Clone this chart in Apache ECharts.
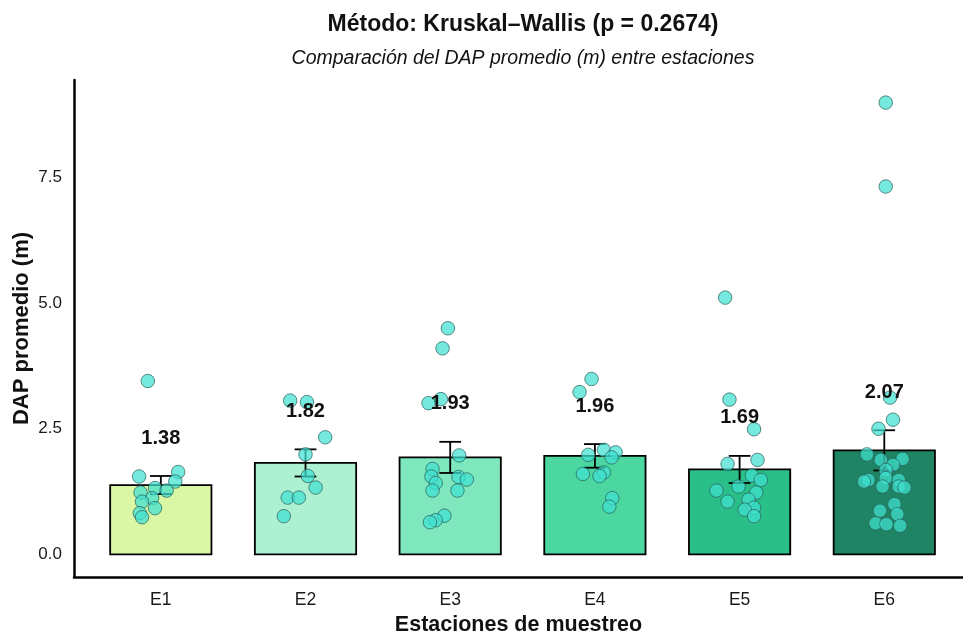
<!DOCTYPE html>
<html>
<head>
<meta charset="utf-8">
<script src="https://cdn.jsdelivr.net/npm/echarts@6/dist/echarts.min.js"></script>
<style>
  html, body { margin: 0; padding: 0; background: #ffffff; }
  #chart { width: 963px; height: 637px; }
</style>
</head>
<body>
<div id="chart"></div>
<script>
// ---- Data ----
const categories = ['E1', 'E2', 'E3', 'E4', 'E5', 'E6'];
const means = [1.38, 1.82, 1.93, 1.96, 1.69, 2.07];
const stdErrors = [0.18, 0.27, 0.31, 0.235, 0.27, 0.40];
const barColors = ['#DAF7A6', '#AEF0D2', '#7FE7BE', '#4CD6A0', '#2ABF89', '#1F8463'];
const yTicks = [0, 2.5, 5, 7.5];

// individual observations (value) and their horizontal jitter (category units)
const e1Vals = [3.45, 1.55, 1.64, 1.45, 1.32, 1.27, 1.23, 1.12, 1.05, 0.92, 0.82, 0.74];
const e1Jit  = [-0.09, -0.15, 0.12, 0.10, -0.04, 0.04, -0.14, -0.06, -0.13, -0.04, -0.145, -0.13];
const e2Vals = [3.06, 3.03, 2.33, 1.99, 1.56, 1.33, 1.13, 1.13, 0.76];
const e2Jit  = [-0.106, 0.01, 0.136, 0.0, 0.016, 0.07, -0.123, -0.046, -0.15];
const e3Vals = [4.50, 4.10, 3.01, 3.09, 1.97, 1.70, 1.55, 1.54, 1.49, 1.42, 1.27, 1.27, 0.77, 0.68, 0.64];
const e3Jit  = [-0.016, -0.053, -0.15, -0.064, 0.062, -0.122, -0.13, 0.057, 0.115, -0.10, -0.122, 0.05, -0.04, -0.10, -0.14];
const e4Vals = [3.49, 3.23, 2.08, 2.03, 1.98, 1.93, 1.60, 1.63, 1.56, 1.12, 0.95];
const e4Jit  = [-0.023, -0.106, 0.062, 0.143, -0.046, 0.115, -0.083, 0.062, 0.032, 0.12, 0.10];
const e5Vals = [5.11, 3.08, 2.49, 1.88, 1.80, 1.57, 1.48, 1.35, 1.27, 1.23, 1.09, 1.05, 0.93, 0.89, 0.76];
const e5Jit  = [-0.10, -0.07, 0.10, 0.124, -0.083, 0.085, 0.147, -0.007, -0.16, 0.115, 0.062, -0.083, 0.10, 0.035, 0.10];
const e6Vals = [8.99, 7.32, 3.12, 2.68, 2.50, 1.99, 1.88, 1.90, 1.78, 1.68, 1.52, 1.48, 1.45, 1.48, 1.35, 1.35, 1.33, 1.00, 0.87, 0.80, 0.62, 0.60, 0.57];
const e6Jit  = [0.01, 0.01, 0.04, 0.06, -0.04, -0.12, -0.024, 0.126, 0.06, 0.01, 0.01, -0.11, -0.14, 0.10, -0.012, 0.10, 0.14, 0.07, -0.03, 0.09, -0.06, 0.015, 0.11];

const allVals = [e1Vals, e2Vals, e3Vals, e4Vals, e5Vals, e6Vals];
const allJit = [e1Jit, e2Jit, e3Jit, e4Jit, e5Jit, e6Jit];

// ---- Build series data ----
const barData = means.map((m, i) => [i + 1, m, i]);
const errData = means.map((m, i) => [i + 1, m - stdErrors[i], m + stdErrors[i], m]);
const pointData = [];
allVals.forEach((vals, i) => {
  vals.forEach((v, k) => pointData.push([i + 1 + allJit[i][k], v]));
});

const FONT = '"Liberation Sans", Arial, sans-serif';
const BAR_HALF = 0.35;
const CAP_HALF = 0.075;

const chart = echarts.init(document.getElementById('chart'), null, { renderer: 'canvas' });

const option = {
  backgroundColor: '#ffffff',
  animation: false,
  title: [
    {
      text: 'Método: Kruskal–Wallis (p = 0.2674)',
      left: 523, top: 13, textAlign: 'center', padding: 0,
      textStyle: { fontFamily: FONT, fontSize: 23, fontWeight: 'bold', color: '#111111' }
    },
    {
      text: 'Comparación del DAP promedio (m) entre estaciones',
      left: 523, top: 49, textAlign: 'center', padding: 0,
      textStyle: { fontFamily: FONT, fontSize: 19.5, fontStyle: 'italic', fontWeight: 'normal', color: '#111111' }
    }
  ],
  grid: { left: 74, top: 80, width: 889, height: 497, containLabel: false, outerBoundsMode: 'none' },
  xAxis: {
    type: 'value',
    min: 0.4, max: 6.544,
    name: 'Estaciones de muestreo',
    nameLocation: 'middle',
    nameGap: 37,
    nameMoveOverlap: false,
    nameTextStyle: { fontFamily: FONT, fontSize: 21.5, fontWeight: 'bold', color: '#111111' },
    axisLine: { show: true, onZero: false, lineStyle: { color: '#000000', width: 2.5 } },
    axisTick: { show: false },
    splitLine: { show: false },
    axisLabel: {
      customValues: [1, 2, 3, 4, 5, 6],
      formatter: (v) => categories[Math.round(v) - 1] || '',
      fontFamily: FONT, fontSize: 17.5, color: '#1a1a1a', margin: 14
    }
  },
  yAxis: {
    type: 'value',
    min: -0.45, max: 9.44,
    name: 'DAP promedio (m)',
    nameLocation: 'middle',
    nameGap: 41,
    nameMoveOverlap: false,
    nameTextStyle: { fontFamily: FONT, fontSize: 22, fontWeight: 'bold', color: '#111111' },
    axisLine: { show: true, onZero: false, lineStyle: { color: '#000000', width: 2.5 } },
    axisTick: { show: false },
    splitLine: { show: false },
    axisLabel: {
      customValues: yTicks,
      formatter: (v) => v.toFixed(1),
      fontFamily: FONT, fontSize: 17, color: '#1a1a1a', margin: 12
    }
  },
  series: [
    {
      type: 'custom',
      name: 'bars',
      z: 1,
      data: barData,
      encode: { x: 0, y: 1 },
      renderItem: function (params, api) {
        const x = api.value(0), y = api.value(1), idx = api.value(2);
        const p1 = api.coord([x - BAR_HALF, y]);
        const p2 = api.coord([x + BAR_HALF, 0]);
        return {
          type: 'rect',
          shape: { x: p1[0], y: p1[1], width: p2[0] - p1[0], height: p2[1] - p1[1] },
          style: { fill: barColors[idx], stroke: '#000000', lineWidth: 1.8 }
        };
      }
    },
    {
      type: 'custom',
      name: 'errors',
      z: 2,
      data: errData,
      encode: { x: 0, y: [1, 2] },
      renderItem: function (params, api) {
        const x = api.value(0), lo = api.value(1), hi = api.value(2);
        const top = api.coord([x, hi]);
        const bot = api.coord([x, lo]);
        const cl = api.coord([x - CAP_HALF, hi]);
        const cr = api.coord([x + CAP_HALF, hi]);
        const bl = api.coord([x - CAP_HALF, lo]);
        const br = api.coord([x + CAP_HALF, lo]);
        const st = { stroke: '#000000', lineWidth: 1.8 };
        return {
          type: 'group',
          children: [
            { type: 'line', shape: { x1: top[0], y1: top[1], x2: bot[0], y2: bot[1] }, style: st },
            { type: 'line', shape: { x1: cl[0], y1: cl[1], x2: cr[0], y2: cr[1] }, style: st },
            { type: 'line', shape: { x1: bl[0], y1: bl[1], x2: br[0], y2: br[1] }, style: st }
          ]
        };
      }
    },
    {
      type: 'scatter',
      name: 'points',
      z: 3,
      data: pointData,
      symbol: 'circle',
      symbolSize: 13.5,
      itemStyle: { color: 'rgba(64,224,208,0.9)', borderColor: '#2a5f5a', borderWidth: 0.9 }
    },
    {
      type: 'custom',
      name: 'labels',
      z: 4,
      data: errData,
      encode: { x: 0, y: 2 },
      renderItem: function (params, api) {
        const x = api.value(0), hi = api.value(2), m = api.value(3);
        const p = api.coord([x, hi]);
        return {
          type: 'text',
          x: p[0], y: p[1] - 38,
          style: {
            text: m.toFixed(2),
            textAlign: 'center', textVerticalAlign: 'middle',
            fontFamily: FONT, fontSize: 20, fontWeight: 'bold', fill: '#111111'
          }
        };
      }
    }
  ]
};

chart.setOption(option);
</script>
</body>
</html>
